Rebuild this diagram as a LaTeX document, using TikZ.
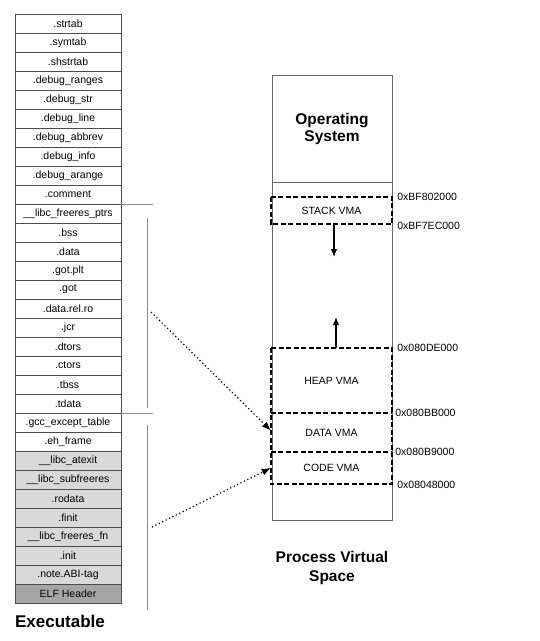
\documentclass[tikz,border=0pt]{standalone}
\usepackage{fontspec}
\setmainfont{Liberation Sans}
\usetikzlibrary{arrows.meta}
\begin{document}
\begin{tikzpicture}[x=1pt,y=-1pt,
		secbox/.style={draw=black!70, line width=0.5pt, minimum width=106pt, minimum height=19pt, inner sep=0pt, font=\fontsize{10.5}{12}\selectfont},
		vmabox/.style={minimum width=121pt, inner sep=0pt, font=\fontsize{10.5}{12}\selectfont},
		vmaline/.style={draw=black, line width=1.6pt, dash pattern=on 5pt off 2.5pt},
		addr/.style={anchor=west, inner sep=0pt, font=\fontsize{10.5}{12}\selectfont},
		title/.style={font=\bfseries\fontsize{15.5}{19}\selectfont, align=center},
		bracket/.style={draw=black!45, line width=0.4pt},
		growth/.style={line width=1.3pt, -{Latex[length=8pt,width=6.5pt]}},
		mapping/.style={line width=1.2pt, dash pattern=on 1.2pt off 2.6pt, -{Latex[length=9pt,width=7pt]}}]
	\useasboundingbox (0,0) rectangle (540,641);
	% executable sections
	\foreach \name [count=\i from 0] in {.strtab,.symtab,.shstrtab,.debug\_ranges,.debug\_str,.debug\_line,.debug\_abbrev,.debug\_info,.debug\_arange,.comment,\_\_libc\_freeres\_ptrs,.bss,.data,.got.plt,.got,.data.rel.ro,.jcr,.dtors,.ctors,.tbss,.tdata,.gcc\_except\_table,.eh\_frame,\_\_libc\_atexit,\_\_libc\_subfreeres,.rodata,.finit,\_\_libc\_freeres\_fn,.init,.note.ABI-tag,ELF Header}{
		\pgfmathtruncatemacro\shade{\i>29 ? 35 : (\i>22 ? 15 : 0)}
		\node[secbox, fill=black!\shade] (sec\i) at (68,23.5+19*\i) {\name};
	}
	\draw[bracket] (sec9.south east) -- ++(32,0);
	\draw[bracket] (147,218) -- (147,408);
	\draw[bracket] (sec20.south east) -- ++(32,0);
	\draw[bracket] (147,425) -- (147,610);
	\node[font=\bfseries\fontsize{17}{20}\selectfont] (exe) at (60,621) {Executable};

	% process virtual space
	\node[draw=black!60, line width=0.5pt, minimum width=120pt, minimum height=445pt, inner sep=0pt] (space) at (332,297.5) {};
	\draw[draw=black!60, line width=0.5pt] (272,182) -- (392,182);
	\node[title, font=\bfseries\fontsize{15.5}{17}\selectfont] (os) at (332,128.5) {Operating\\System};
	\node[vmabox, minimum height=27pt] (stack) at (331.5,210.5) {STACK VMA};
	\node[vmabox, minimum height=65pt] (heap) at (331.5,380.5) {HEAP VMA};
	\node[vmabox, minimum height=39pt] (data) at (331.5,432.5) {DATA VMA};
	\node[vmabox, minimum height=32pt] (code) at (331.5,468) {CODE VMA};
	\draw[vmaline] (stack.north west) rectangle (stack.south east);
	\draw[vmaline] (heap.north west) rectangle (code.south east);
	\draw[vmaline] (data.north west) -- (data.north east);
	\draw[vmaline] (code.north west) -- (code.north east);
	\node[addr] (a0) at ([xshift=5pt]stack.north east) {0xBF802000};
	\node[addr] (a1) at ([xshift=5pt,yshift=-2pt]stack.south east) {0xBF7EC000};
	\node[addr] (a2) at ([xshift=5pt]heap.north east) {0x080DE000};
	\node[addr] (a3) at ([xshift=3pt]data.north east) {0x080BB000};
	\node[addr] (a4) at ([xshift=3pt]code.north east) {0x080B9000};
	\node[addr] (a5) at ([xshift=5pt,yshift=-1pt]code.south east) {0x08048000};
	\coordinate (stackend) at (334,257);
	\coordinate (heapend) at (336,317);
	\draw[growth] (stack.south -| stackend) -- (stackend);
	\draw[growth] (heap.north -| heapend) -- (heapend);
	\coordinate (rostart) at (151,312);
	\coordinate (textstart) at (152,527);
	\draw[mapping] (rostart) -- ([yshift=2pt]data.west);
	\draw[mapping] (textstart) -- (code.west);
	\node[title] (pvs) at (332,567.5) {Process Virtual\\Space};
\end{tikzpicture}
\end{document}
